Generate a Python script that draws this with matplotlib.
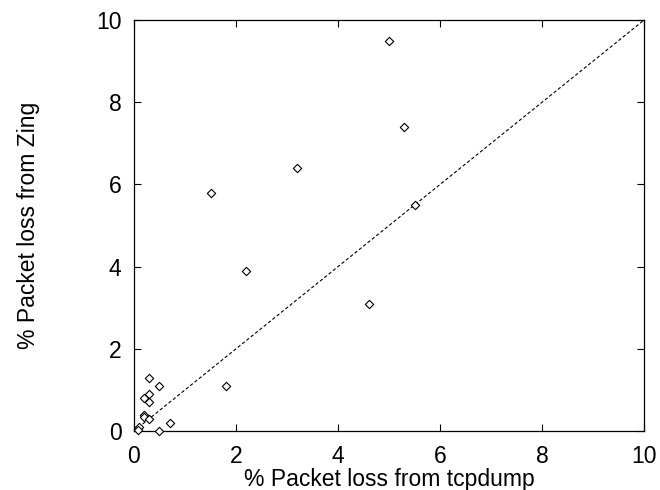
import matplotlib
matplotlib.use("Agg")
import matplotlib.pyplot as plt

# % packet loss: tcpdump (x) vs Zing (y)
tcpdump_loss = [1.5, 2.2, 3.2, 4.6, 5.0, 5.3, 5.5, 1.8,
                0.3, 0.5, 0.3, 0.2, 0.3, 0.2, 0.2, 0.3, 0.7, 0.1, 0.08, 0.5]
zing_loss = [5.8, 3.9, 6.4, 3.1, 9.5, 7.4, 5.5, 1.1,
             1.3, 1.1, 0.9, 0.8, 0.7, 0.4, 0.33, 0.28, 0.2, 0.1, 0.02, 0.0]
axis_max = 10

plt.rcParams["font.family"] = ["Liberation Sans", "DejaVu Sans"]

fig = plt.figure(figsize=(6.6, 4.9), dpi=100)
ax = fig.add_axes([0.203, 0.1204, 0.773, 0.8388])

ax.plot([0, axis_max], [0, axis_max], linestyle=(0, (3, 2)), color="black", linewidth=0.8)
ax.scatter(tcpdump_loss, zing_loss, marker="D", s=18, facecolors="white",
           edgecolors="black", linewidths=0.8, zorder=3, clip_on=False)

ax.set_xlim(0, axis_max)
ax.set_ylim(0, axis_max)
ax.set_xticks(range(0, 11, 2))
ax.set_yticks(range(0, 11, 2))
ax.tick_params(direction="in", top=True, right=True, length=5, width=0.8, labelsize=16.5)
ax.tick_params(axis="x", pad=10)
ax.tick_params(axis="y", pad=9)
for s in ax.spines.values():
    s.set_linewidth(0.9)

ax.set_xlabel("% Packet loss from tcpdump", fontsize=16.5, labelpad=0)
ax.set_ylabel("% Packet loss from Zing", fontsize=16.5, labelpad=40)

fig.savefig("out.png", dpi=100)
